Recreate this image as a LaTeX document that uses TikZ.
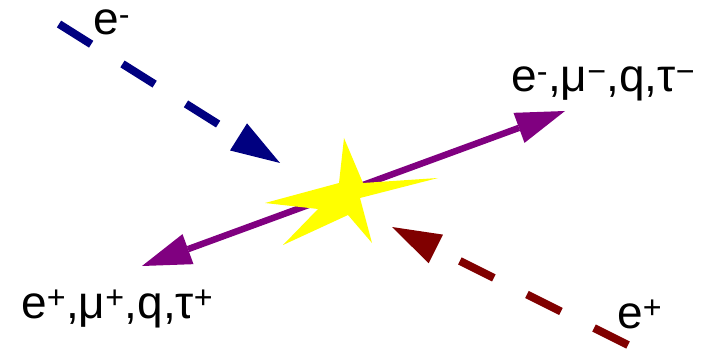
\documentclass[tikz,border=0pt]{standalone}
\usepackage{fontspec}
\setmainfont{Liberation Sans}
\usetikzlibrary{arrows.meta}
\definecolor{beamBlue}{HTML}{000080}
\definecolor{beamRed}{HTML}{800000}
\definecolor{beamPurple}{HTML}{800080}
\definecolor{flashYellow}{HTML}{FFFF00}

\begin{document}
\begin{tikzpicture}[x=1pt,y=-1pt]
  \tikzset{
    bigtip/.tip={Triangle[length=49pt,width=32pt,line width=0pt]},
    beam/.style={line width=8pt,dash pattern=on 38pt off 37pt,-bigtip},
    jet/.style={line width=6.5pt,color=beamPurple,bigtip-bigtip},
    partlabel/.style={font=\fontsize{46}{52}\selectfont,inner sep=0pt,anchor=base west}
  }
  \useasboundingbox (0,0) rectangle (702,350);

  % incoming beams
  \coordinate (eminus in) at (59,24);
  \coordinate (eminus tip) at (280,163);
  \coordinate (eplus in) at (628,345);
  \coordinate (eplus tip) at (392,227);
  \draw[beam,color=beamBlue] (eminus in) -- (eminus tip);
  \draw[beam,color=beamRed] (eplus in) -- (eplus tip);

  % outgoing pair
  \coordinate (pair left) at (142,266);
  \coordinate (pair right) at (565,111);
  \draw[jet] (pair right) -- (pair left);

  % collision flash
  \fill[flashYellow] (344,138) -- (363,183) -- (438,178) -- (360,198) -- (372,243)
    -- (348,215) -- (283,245) -- (318,209) -- (265,203) -- (339,183) -- cycle;

  \node[partlabel] (lbl eminus) at (93,35) {e\textsuperscript{-}};
  \node[partlabel] (lbl out neg) at (511,92) {e\textsuperscript{-},μ\textsuperscript{−},q,τ\textsuperscript{−}};
  \node[partlabel] (lbl out pos) at (21,318) {e\textsuperscript{+},μ\textsuperscript{+},q,τ\textsuperscript{+}};
  \node[partlabel] (lbl eplus) at (617,328) {e\textsuperscript{+}};
\end{tikzpicture}
\end{document}
